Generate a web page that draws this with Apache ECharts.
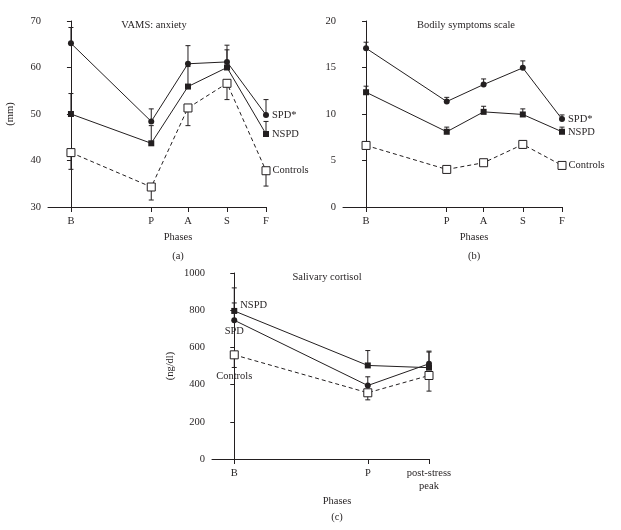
<!DOCTYPE html>
<html>
<head>
<meta charset="utf-8">
<script src="https://cdn.jsdelivr.net/npm/echarts@6/dist/echarts.min.js"></script>
<style>
html,body{margin:0;padding:0;background:#fff;}
#chart{width:621px;height:530px;}
</style>
</head>
<body>
<div id="chart"></div>
<script>
// ---- Data ----
const phasesAB = ['B', 'P', 'A', 'S', 'F'];
const phasePosAB = [0, 3.5, 5.1, 6.8, 8.5];
const phasesC = ['B', 'P', 'post-stress\npeak'];
const phasePosC = [0, 6, 8.75];

// (a) VAMS: anxiety (mm)
const vamsSPD = [65.2, 48.4, 60.8, 61.2, 49.8];
const vamsSPDErr = [3.4, 2.7, 3.9, 3.6, 3.3];
const vamsNSPD = [50.0, 43.7, 55.9, 60.0, 45.7];
const vamsNSPDErr = [4.4, 3.8, 4.3, 3.8, 2.7];
const vamsCtrl = [41.7, 34.3, 51.3, 56.6, 37.8];
const vamsCtrlErr = [3.6, 2.8, 3.8, 3.5, 3.3];

// (b) Bodily symptoms scale
const bodySPD = [17.07, 11.34, 13.17, 14.96, 9.45];
const bodySPDErr = [0.65, 0.45, 0.6, 0.75, 0.45];
const bodyNSPD = [12.34, 8.09, 10.23, 9.95, 8.09];
const bodyNSPDErr = [0.65, 0.5, 0.6, 0.6, 0.5];
const bodyCtrl = [6.62, 4.04, 4.76, 6.73, 4.47];
const bodyCtrlErr = [0.4, 0.3, 0.25, 0.4, 0.35];

// (c) Salivary cortisol (ng/dl)
const cortSPD = [746, 395, 512];
const cortSPDErr = [93, 47, 68];
const cortNSPD = [796, 503, 491];
const cortNSPDErr = [124, 80, 84];
const cortCtrl = [560, 356, 449];
const cortCtrlErr = [68, 38, 84];

// ---- Styling ----
const FONT = '"Liberation Serif", "DejaVu Serif", serif';
const INK = '#231f20';
const FS = 10.5;

function renderErr(params, api) {
  const x = api.value(0), y = api.value(1), y2 = api.value(2);
  const p1 = api.coord([x, y]), p2 = api.coord([x, y2]);
  const w = 2.5;
  return {
    type: 'group',
    children: [
      {type: 'line', shape: {x1: p1[0], y1: p1[1], x2: p2[0], y2: p2[1]}, style: {stroke: INK, lineWidth: 1}},
      {type: 'line', shape: {x1: p2[0] - w, y1: p2[1], x2: p2[0] + w, y2: p2[1]}, style: {stroke: INK, lineWidth: 1}}
    ]
  };
}

function errSeries(idx, xs, ys, errs, dir) {
  return {
    type: 'custom', xAxisIndex: idx, yAxisIndex: idx, z: 1,
    renderItem: renderErr,
    encode: {x: 0, y: [1, 2]},
    data: ys.map((v, i) => [xs[i], v, v + dir * errs[i]]),
    silent: true
  };
}

function lineSeries(idx, xs, ys, kind, labelIdx, labelText, labelExtra) {
  return {
    type: 'line', xAxisIndex: idx, yAxisIndex: idx, z: 3,
    silent: true, animation: false,
    lineStyle: {color: INK, width: 1, type: kind === 'ctrl' ? [4, 3] : 'solid'},
    symbol: kind === 'spd' ? 'circle' : 'rect',
    symbolSize: kind === 'spd' ? 6 : (kind === 'nspd' ? 6 : 8),
    showAllSymbol: true,
    itemStyle: kind === 'ctrl'
      ? {color: '#fff', borderColor: INK, borderWidth: 1}
      : {color: INK, borderColor: INK, borderWidth: 0},
    data: ys.map((v, i) => {
      const d = {value: [xs[i], v]};
      if (i === labelIdx) {
        d.label = Object.assign({
          show: true, formatter: labelText, position: 'right', distance: 3,
          color: INK, fontFamily: FONT, fontSize: FS
        }, labelExtra || {});
      }
      return d;
    })
  };
}

function xAxisDef(idx, pos, names, min, max) {
  return {
    type: 'value', gridIndex: idx, min: min, max: max,
    splitLine: {show: false},
    axisLine: {show: true, lineStyle: {color: INK, width: 1}},
    axisTick: {show: true, length: 5, inside: false, customValues: pos, lineStyle: {color: INK}},
    axisLabel: {
      show: true, customValues: pos, margin: 8, color: INK, fontFamily: FONT, fontSize: FS, lineHeight: 13,
      formatter: function (v) {
        for (let i = 0; i < pos.length; i++) if (Math.abs(pos[i] - v) < 1e-6) return names[i];
        return '';
      }
    }
  };
}

function yAxisDef(idx, min, max, interval, name, gap) {
  return {
    type: 'value', gridIndex: idx, min: min, max: max, interval: interval,
    name: name, nameLocation: 'middle', nameRotate: 90, nameGap: gap,
    nameTextStyle: {color: INK, fontFamily: FONT, fontSize: FS},
    splitLine: {show: false},
    axisLine: {show: true, lineStyle: {color: INK, width: 1}},
    axisTick: {show: true, length: 4, inside: false, lineStyle: {color: INK}},
    axisLabel: {margin: 7, color: INK, fontFamily: FONT, fontSize: FS, formatter: function (v) { return String(v); }}
  };
}

function txt(x, y, s) {
  return {type: 'text', x: x, y: y, silent: true,
    style: {text: s, fill: INK, font: FS + 'px ' + FONT, textAlign: 'center', textVerticalAlign: 'middle'}};
}

const option = {
  backgroundColor: '#fff',
  animation: false,
  grid: [
    {left: 48, top: 21, width: 218, height: 186},
    {left: 343, top: 21, width: 219, height: 186},
    {left: 212, top: 273, width: 217, height: 186}
  ],
  xAxis: [
    xAxisDef(0, phasePosAB, phasesAB, -1, 8.5),
    xAxisDef(1, phasePosAB, phasesAB, -1, 8.5),
    xAxisDef(2, phasePosC, phasesC, -1, 8.75)
  ],
  yAxis: [
    yAxisDef(0, 30, 70, 10, '(mm)', 32),
    yAxisDef(1, 0, 20, 5, '', 30),
    yAxisDef(2, 0, 1000, 200, '(ng/dl)', 36)
  ],
  graphic: [
    txt(154, 25, 'VAMS: anxiety'),
    txt(466, 25, 'Bodily symptoms scale'),
    txt(327, 277, 'Salivary cortisol'),
    txt(178, 237, 'Phases'),
    txt(178, 256, '(a)'),
    txt(474, 237, 'Phases'),
    txt(474, 256, '(b)'),
    txt(337, 501, 'Phases'),
    txt(337, 517, '(c)')
  ],
  series: [
    errSeries(0, phasePosAB, vamsSPD, vamsSPDErr, 1),
    errSeries(0, phasePosAB, vamsNSPD, vamsNSPDErr, 1),
    errSeries(0, phasePosAB, vamsCtrl, vamsCtrlErr, -1),
    lineSeries(0, phasePosAB, vamsCtrl, 'ctrl', 4, 'Controls', {distance: 2}),
    lineSeries(0, phasePosAB, vamsNSPD, 'nspd', 4, 'NSPD'),
    lineSeries(0, phasePosAB, vamsSPD, 'spd', 4, 'SPD*'),

    errSeries(1, phasePosAB, bodySPD, bodySPDErr, 1),
    errSeries(1, phasePosAB, bodyNSPD, bodyNSPDErr, 1),
    errSeries(1, phasePosAB, bodyCtrl, bodyCtrlErr, -1),
    lineSeries(1, phasePosAB, bodyCtrl, 'ctrl', 4, 'Controls', {distance: 2}),
    lineSeries(1, phasePosAB, bodyNSPD, 'nspd', 4, 'NSPD'),
    lineSeries(1, phasePosAB, bodySPD, 'spd', 4, 'SPD*'),

    errSeries(2, phasePosC, cortSPD, cortSPDErr, 1),
    errSeries(2, phasePosC, cortNSPD, cortNSPDErr, 1),
    errSeries(2, phasePosC, cortCtrl, cortCtrlErr, -1),
    lineSeries(2, phasePosC, cortCtrl, 'ctrl', 0, 'Controls', {position: 'bottom', distance: 11}),
    lineSeries(2, phasePosC, cortNSPD, 'nspd', 0, 'NSPD', {position: 'right', distance: 3, offset: [0, -6]}),
    lineSeries(2, phasePosC, cortSPD, 'spd', 0, 'SPD', {position: 'bottom', distance: 3})
  ]
};

const chart = echarts.init(document.getElementById('chart'), null, {renderer: 'canvas'});
chart.setOption(option);
</script>
</body>
</html>
